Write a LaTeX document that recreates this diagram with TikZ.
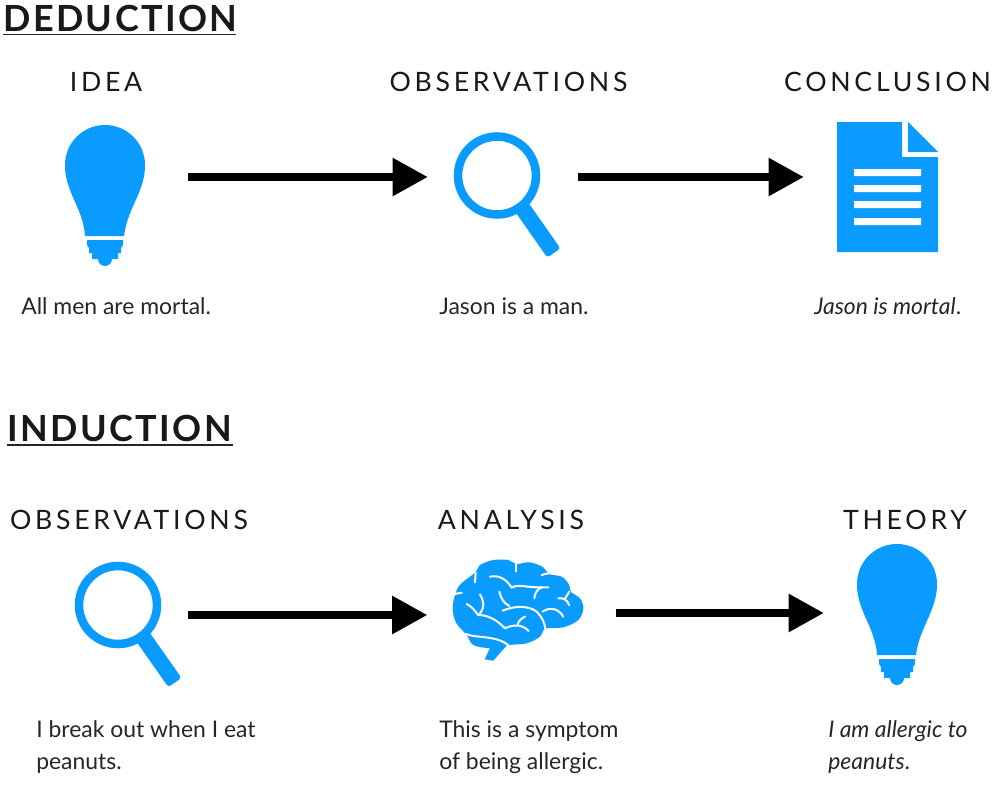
\documentclass[tikz,border=0pt]{standalone}
\usepackage{fontspec}
\usetikzlibrary{arrows.meta}
\setmainfont{Lato}
\newfontfamily\headfont[LetterSpace=14]{Lato}
\newfontfamily\titlefont[LetterSpace=6.6]{Lato}
\definecolor{iconblue}{HTML}{0A9BFF}
\tikzset{
  x=0.75pt,y=-0.75pt,
  title/.style={inner sep=0pt,anchor=base west,font=\fontsize{27}{27}\selectfont\titlefont\bfseries,text=black!90},
  head/.style={inner sep=0pt,anchor=base,font=\fontsize{20}{20}\selectfont\headfont,text=black!90},
  caption/.style={inner sep=0pt,anchor=base west,align=left,font=\fontsize{17.2}{24}\selectfont,text=black!85},
  iconbox/.style={inner sep=0pt,outer sep=0pt,minimum height=1pt},
  flow/.style={line width=6.4pt,black,-{Triangle[length=26.5pt,width=27pt]}},
  rule/.style={black!85,line width=1.3pt},
  sulcus/.style={draw=white,line width=1.5pt,line cap=round,line join=round,fill=none},
  bulb/.pic={
    \fill[iconblue] (-20,71) .. controls (-21,55) and (-27,44) .. (-33,30)
       .. controls (-37,20) and (-40,12) .. (-40,0)
       arc[start angle=180,end angle=360,radius=40]
       .. controls (40,12) and (37,20) .. (33,30)
       .. controls (27,44) and (21,55) .. (19,71) -- cycle;
    \fill[iconblue] (-18,75) -- (18,75) -- (18,80) -- (16,83) -- (16,88) -- (13,88) -- (13,94) -- (7,94)
       arc[start angle=0,end angle=180,radius=7] -- (-13,94) -- (-13,88) -- (-16,88) -- (-16,83) -- (-18,80) -- cycle;
  },
  lens/.pic={
    \draw[iconblue,line width=6.4pt] (0,0) circle[radius=39];
    \fill[iconblue,rounded corners=2.2pt] (30.4,25.8) -- (17.3,35) -- (50.35,82.1) -- (63.45,72.9) -- cycle;
  },
}
\begin{document}
\begin{tikzpicture}
\useasboundingbox (0,0) rectangle (1000,810);
\fill[white] (0,0) rectangle (1000,810);

% titles
\node[title] (t1) at (3,31.5) {DEDUCTION};
\node[title] (t2) at (7,441.5) {INDUCTION};
\draw[rule] (3,34.5) -- (236,34.5);
\draw[rule] (7,445) -- (233,445);

% column heads
\node[head] (h1) at (106,91) {IDEA};
\node[head] (h2) at (508.5,91) {OBSERVATIONS};
\node[head] (h3) at (887.5,91) {CONCLUSION};
\node[head] (h4) at (129,529) {OBSERVATIONS};
\node[head] (h5) at (511,529) {ANALYSIS};
\node[head] (h6) at (905,529) {THEORY};

% icons
\pic at (105,165) {bulb};
\pic at (497,175.5) {lens};
\fill[iconblue] (837,122) -- (902,122) -- (902,157) -- (938,157) -- (938,252) -- (837,252) -- cycle;
\fill[iconblue] (908,122) -- (938,152) -- (908,152) -- cycle;
\fill[white] (854,169) rectangle (921,176) (854,185) rectangle (921,192) (854,201) rectangle (921,208) (854,218) rectangle (921,225);
\pic at (118,605) {lens};
\pic at (897,584) {bulb};

% brain
\begin{scope}[shift={(430,550)},x=0.25pt,y=-0.25pt]
  \fill[iconblue] plot[smooth cycle,tension=0.55] coordinates {
    (68,175) (76,132) (92,102) (135,68) (150,45) (190,30) (235,30) (258,42) (300,37) (340,52) (356,72)
    (395,80) (418,105) (422,125) (450,145) (460,175) (445,210) (400,232) (346,236) (330,260)
    (290,280) (235,285) (180,294) (130,285) (110,255) (78,218)};
  \fill[iconblue] (178,285) -- (232,284) -- (190,332) -- (164,328) -- (178,298) -- cycle;
  \draw[sulcus] (137,68) -- (135,97);
  \draw[sulcus] (74,132) -- (95,128);
  \draw[sulcus] (258,42) -- (258,65);
  \draw[sulcus] (335,75) .. controls (350,70) and (365,68) .. (376,68);
  \draw[sulcus] (180,80) .. controls (205,75) and (228,85) .. (245,113) .. controls (265,100) and (290,115) .. (355,112);
  \draw[sulcus] (335,112) .. controls (320,118) and (315,130) .. (313,145);
  \draw[sulcus] (385,145) .. controls (400,142) and (412,150) .. (418,166);
  \draw[sulcus] (405,146) -- (418,125);
  \draw[sulcus] (208,125) .. controls (212,145) and (222,160) .. (238,168);
  \draw[sulcus] (218,182) .. controls (250,168) and (295,165) .. (320,185) .. controls (335,200) and (343,215) .. (346,236);
  \draw[sulcus] (338,185) .. controls (360,170) and (385,175) .. (400,200);
  \draw[sulcus] (150,133) .. controls (162,155) and (165,170) .. (150,190);
  \draw[sulcus] (110,162) .. controls (128,170) and (135,185) .. (145,195) .. controls (180,195) and (205,215) .. (225,235) .. controls (245,225) and (275,220) .. (296,243);
  \draw[sulcus] (263,224) .. controls (265,212) and (275,205) .. (285,200);
  \draw[sulcus] (108,252) .. controls (135,265) and (200,255) .. (235,286);
\end{scope}

% invisible anchors the arrows run between
\node[iconbox,minimum width=124.5pt] (bulbA) at (105,177) {};
\node[iconbox,minimum width=112.5pt] (lensA) at (503,177) {};
\node[iconbox,minimum width=124.5pt] (docA) at (887,177) {};
\node[iconbox,minimum width=124.5pt] (lensB) at (105,615) {};
\node[iconbox,minimum width=141pt] (brainB) at (521.5,615) {};
\node[iconbox,minimum width=124.5pt] (bulbB) at (907,613) {};
\draw[flow] (bulbA) -- (lensA);
\draw[flow] (lensA) -- (docA);
\draw[flow] (lensB) -- (brainB);
\draw[flow] (brainB.east |- bulbB) -- (bulbB);

% captions
\node[caption] (c1) at (21,314) {All men are mortal.};
\node[caption] (c2) at (439,314) {Jason is a man.};
\node[caption] (c3) at (814,314) {\itshape Jason is mortal\upshape.};
\node[caption] (c4) at (36,769) {I break out when I eat\\peanuts.};
\node[caption] (c5) at (439,769) {This is a symptom\\of being allergic.};
\node[caption] (c6) at (828,769) {\itshape I am allergic to\\\itshape peanuts\upshape.};
\end{tikzpicture}
\end{document}
